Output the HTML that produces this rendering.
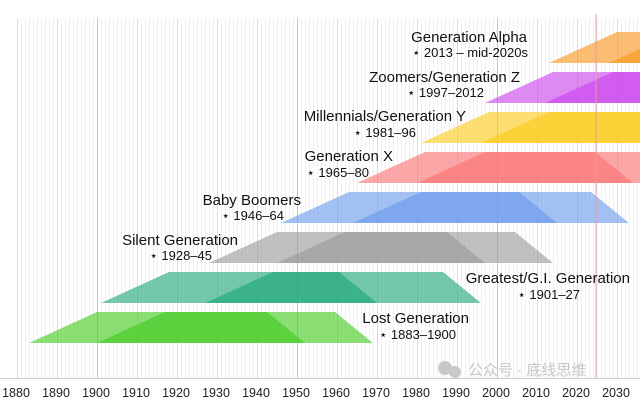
<!DOCTYPE html>
<html><head><meta charset="utf-8"><style>
html,body{margin:0;padding:0;background:#fff;width:640px;height:400px;overflow:hidden}
svg{display:block;font-family:"Liberation Sans","Noto Sans CJK SC",sans-serif}
.n{font-size:15px}
</style></head><body>
<svg width="640" height="400" viewBox="0 0 640 400" xmlns="http://www.w3.org/2000/svg">
<g id="grid"></g>
<g id="bands"></g>
<line x1="596" y1="14" x2="596" y2="378" stroke="#e89a9a" stroke-width="1"/>
<g font-size="13" fill="#111" text-anchor="end">
<text class="n" x="527" y="42">Generation Alpha</text><text x="528" y="57">⋆ 2013 – mid-2020s</text>
<text class="n" x="520" y="82">Zoomers/Generation Z</text><text x="484" y="97">⋆ 1997–2012</text>
<text class="n" x="466" y="121">Millennials/Generation Y</text><text x="416" y="137">⋆ 1981–96</text>
<text class="n" x="393" y="161">Generation X</text><text x="369" y="177">⋆ 1965–80</text>
<text class="n" x="301" y="205">Baby Boomers</text><text x="284" y="220">⋆ 1946–64</text>
<text class="n" x="238" y="245">Silent Generation</text><text x="212" y="260">⋆ 1928–45</text>
<text class="n" x="630" y="283">Greatest/G.I. Generation</text><text x="580" y="299">⋆ 1901–27</text>
<text class="n" x="469" y="323">Lost Generation</text><text x="456" y="339">⋆ 1883–1900</text>
</g>
<g font-size="12.5" fill="#222" text-anchor="middle" id="ticks"></g>
<g fill="#c8c8c8" font-size="15">
<circle cx="445" cy="368" r="7"/><circle cx="455" cy="372" r="6"/>
<text x="468" y="375">公众号 · 底线思维</text>
</g>
</svg>
<script>
const X=y=>97+(y-1900)*4;
const ns="http://www.w3.org/2000/svg";
const g=document.getElementById('grid');
for(let y=1880;y<=2035;y++){const l=document.createElementNS(ns,'line');const x=X(y)+0.5;
l.setAttribute('x1',x);l.setAttribute('x2',x);l.setAttribute('y1',18);l.setAttribute('y2',378);
l.setAttribute('stroke',y%50==0?'#c4c4c4':(y%10==0?'#dcdcdc':'#f0f0f0'));g.appendChild(l);}
const bl=document.createElementNS(ns,'line');bl.setAttribute('x1',0);bl.setAttribute('x2',640);bl.setAttribute('y1',378.5);bl.setAttribute('y2',378.5);bl.setAttribute('stroke','#ccc');g.appendChild(bl);
const t=document.getElementById('ticks');
for(let y=1880;y<=2030;y+=10){const e=document.createElementNS(ns,'text');e.setAttribute('x',X(y)-1);e.setAttribute('y',397);e.textContent=y;t.appendChild(e);}
const bands=[[1883,1900,312,'#3ec919'],[1901,1927,272,'#18a574'],[1928,1945,232,'#979797'],[1946,1964,192,'#6797ed'],[1965,1980,152,'#fb6e6e'],[1981,1996,112,'#fcc914'],[1997,2012,72,'#c93eed'],[2013,2028,32,'#fa9314']];
const b=document.getElementById('bands');
for(const [b1,b2,T,c] of bands){for(const s of [b1,b2]){const p=document.createElementNS(ns,'polygon');
p.setAttribute('points',`${X(s)},${T+31} ${X(s+17)},${T} ${X(s+59.5)},${T} ${X(s+69)},${T+31}`);
p.setAttribute('fill',c);p.setAttribute('fill-opacity',0.6);b.appendChild(p);}}
</script>
</body></html>
